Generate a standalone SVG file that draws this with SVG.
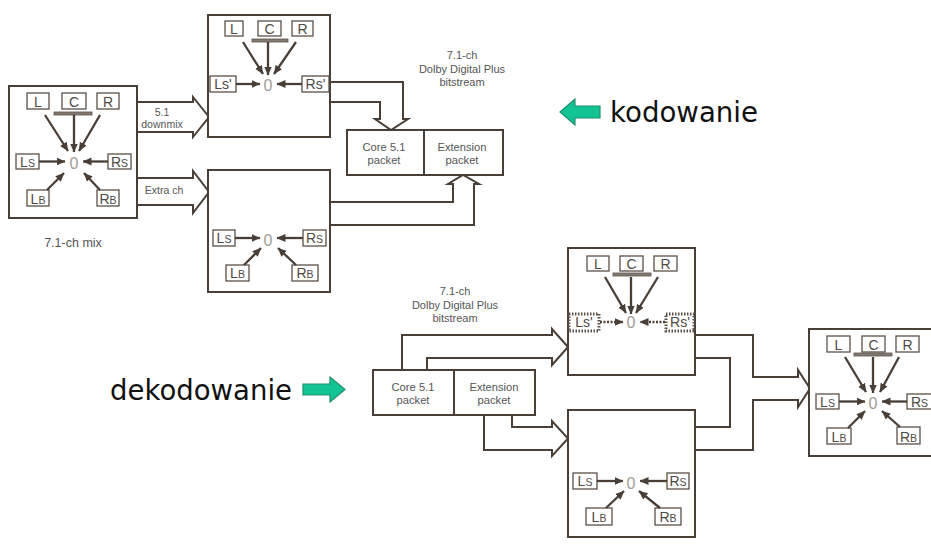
<svg xmlns="http://www.w3.org/2000/svg" width="931" height="559" viewBox="0 0 931 559">
<defs>
<marker id="ah" markerUnits="userSpaceOnUse" markerWidth="9" markerHeight="9" viewBox="0 0 9 9" refX="8.5" refY="4.5" orient="auto">
<path d="M0,0.6 L9,4.5 L0,8.4 z" fill="#4a3f36"/>
</marker>
<style>
.box{fill:#fff;stroke:#4a3f36;stroke-width:2}
.ch{fill:#fff;stroke:#5b5048;stroke-width:1.3}
.dch{fill:#fff;stroke:#5b5048;stroke-width:3;stroke-dasharray:1.5 1.5}
.bar{fill:#857b72;stroke:#5b5048;stroke-width:0.8}
.a{stroke:#4a3f36;stroke-width:2.3;marker-end:url(#ah)}
.ad{stroke:#4a3f36;stroke-width:2.3;stroke-dasharray:2 1.5;marker-end:url(#ah)}
.t{font-family:"Liberation Sans",Arial,sans-serif;font-size:14px;fill:#4f4a45;text-anchor:middle}
.z{font-family:"Liberation Sans",Arial,sans-serif;font-size:16px;fill:#a29c96;text-anchor:middle}
.s{font-size:10.5px}
.lbl{font-family:"Liberation Sans",Arial,sans-serif;font-size:10.5px;fill:#555;text-anchor:middle}
.bs{font-size:11px}
.pk{font-family:"Liberation Sans",Arial,sans-serif;font-size:11.2px;fill:#555;text-anchor:middle}
.c{fill:none;stroke:#4a3f36;stroke-width:2;stroke-linejoin:miter}
.ga{fill:#14c393;stroke:#1d8f6d;stroke-width:1.2}
.big{font-family:"DejaVu Sans",Verdana,sans-serif;font-size:28px;fill:#111}
</style>
</defs>
<rect width="931" height="559" fill="#fff"/>

<g id="connectors">
<polyline class="c" points="137,102 193,102 193,97 209,117 193,137 193,132 137,132"/>
<polyline class="c" points="137,178 193,178 193,171 209,192 193,213 193,205 137,205"/>
<polyline class="c" points="330,82 403,82 403,119 408,119 391,130 375,119 380,119 380,102 330,102"/>
<polyline class="c" points="330,202 453,202 453,184 448,184 463,175 479,184 474,184 474,225 330,225"/>
<polyline class="c" points="402,370 402,335 552,335 552,329 568,347 552,365 552,358 427,358 427,370"/>
<polyline class="c" points="512,415 512,427 552,427 552,421 568,438.5 552,456 552,450 484,450 484,415"/>
<polyline class="c" points="695,335 753,335 753,377 798,377 798,370 810,388.5 798,407 798,400 753,400 753,450 695,450"/>
<polyline class="c" points="695,358 730,358 730,427 695,427"/>
</g>

<g id="mix71">
<rect class="box" x="9" y="86" width="128" height="132"/>
<rect class="ch" x="27" y="93" width="22" height="16"/><text class="t" x="38" y="106.5">L</text>
<rect class="ch" x="62" y="93" width="24" height="16"/><text class="t" x="74" y="106.5">C</text>
<rect class="ch" x="97" y="93" width="22" height="16"/><text class="t" x="108" y="106.5">R</text>
<rect class="bar" x="54" y="112" width="38" height="3"/>
<text class="z" x="74" y="168.5">0</text>
<rect class="ch" x="16" y="154" width="23" height="15"/><text class="t" x="27.5" y="167">L<tspan class="s">S</tspan></text>
<rect class="ch" x="108" y="154" width="23" height="15"/><text class="t" x="119.5" y="167">R<tspan class="s">S</tspan></text>
<rect class="ch" x="27" y="190" width="22" height="16"/><text class="t" x="38" y="203.5">L<tspan class="s">B</tspan></text>
<rect class="ch" x="97" y="190" width="22" height="16"/><text class="t" x="108" y="203.5">R<tspan class="s">B</tspan></text>
<line class="a" x1="45" y1="115" x2="68" y2="151"/>
<line class="a" x1="74" y1="115" x2="74" y2="152"/>
<line class="a" x1="100" y1="115" x2="79" y2="151"/>
<line class="a" x1="39" y1="161.5" x2="65" y2="161.5"/>
<line class="a" x1="108" y1="161.5" x2="83" y2="161.5"/>
<line class="a" x1="47" y1="190" x2="64" y2="173"/>
<line class="a" x1="100" y1="190" x2="84" y2="173"/>
</g>
<text class="lbl" x="73" y="247" style="font-size:12.5px">7.1-ch mix</text>
<text class="lbl" x="162" y="116">5.1</text>
<text class="lbl" x="162" y="128">downmix</text>
<text class="lbl" x="164" y="194">Extra ch</text>

<g id="enc-core">
<rect class="box" x="208" y="15" width="122" height="122"/>
<rect class="ch" x="225" y="21" width="18" height="15"/><text class="t" x="234" y="34">L</text>
<rect class="ch" x="258" y="21" width="23" height="15"/><text class="t" x="269.5" y="34">C</text>
<rect class="ch" x="292" y="21" width="21" height="15"/><text class="t" x="302.5" y="34">R</text>
<rect class="bar" x="252" y="39" width="36" height="3"/>
<text class="z" x="268" y="90.5">0</text>
<rect class="ch" x="210" y="76" width="26" height="16"/><text class="t" x="223" y="89">Ls'</text>
<rect class="ch" x="302" y="76" width="27" height="16"/><text class="t" x="315.5" y="89">Rs'</text>
<line class="a" x1="243" y1="42" x2="263" y2="74"/>
<line class="a" x1="268" y1="42" x2="268" y2="75"/>
<line class="a" x1="296" y1="42" x2="274" y2="74"/>
<line class="a" x1="236" y1="84" x2="260" y2="84"/>
<line class="a" x1="302" y1="84" x2="277" y2="84"/>
</g>

<g id="enc-ext">
<rect class="box" x="208" y="170" width="122" height="122"/>
<text class="z" x="268" y="245.5">0</text>
<rect class="ch" x="213" y="230" width="22" height="16"/><text class="t" x="224" y="243">L<tspan class="s">S</tspan></text>
<rect class="ch" x="303" y="230" width="23" height="16"/><text class="t" x="314.5" y="243">R<tspan class="s">S</tspan></text>
<rect class="ch" x="226" y="265" width="23" height="16"/><text class="t" x="237.5" y="278">L<tspan class="s">B</tspan></text>
<rect class="ch" x="292" y="265" width="26" height="16"/><text class="t" x="305" y="278">R<tspan class="s">B</tspan></text>
<line class="a" x1="235" y1="238" x2="260" y2="238"/>
<line class="a" x1="303" y1="238" x2="277" y2="238"/>
<line class="a" x1="244" y1="265" x2="261" y2="248"/>
<line class="a" x1="296" y1="265" x2="278" y2="248"/>
</g>

<g id="enc-bitstream">
<rect class="box" x="347" y="130" width="156" height="45"/>
<line x1="424" y1="130" x2="424" y2="175" stroke="#4a3f36" stroke-width="2"/>
<text class="pk" x="384" y="151">Core 5.1</text>
<text class="pk" x="384" y="164">packet</text>
<text class="pk" x="462" y="151">Extension</text>
<text class="pk" x="462" y="164">packet</text>
</g>
<text class="lbl bs" x="462" y="59">7.1-ch</text>
<text class="lbl bs" x="462" y="73">Dolby Digital Plus</text>
<text class="lbl bs" x="462" y="86">bitstream</text>

<g id="kodowanie">
<polygon class="ga" points="560,112 575,99 575,106 600,106 600,118 575,118 575,125"/>
<text class="big" x="610" y="122" textLength="148" lengthAdjust="spacingAndGlyphs">kodowanie</text>
</g>

<g id="dekodowanie">
<text class="big" x="110" y="400" textLength="182" lengthAdjust="spacingAndGlyphs">dekodowanie</text>
<polygon class="ga" points="345,389.5 330,377 330,384 303,384 303,395 330,395 330,402"/>
</g>

<g id="dec-bitstream">
<rect class="box" x="373" y="370" width="162" height="45"/>
<line x1="454" y1="370" x2="454" y2="415" stroke="#4a3f36" stroke-width="2"/>
<text class="pk" x="413" y="391">Core 5.1</text>
<text class="pk" x="413" y="404">packet</text>
<text class="pk" x="494" y="391">Extension</text>
<text class="pk" x="494" y="404">packet</text>
</g>
<text class="lbl bs" x="455" y="295">7.1-ch</text>
<text class="lbl bs" x="455" y="309">Dolby Digital Plus</text>
<text class="lbl bs" x="455" y="322">bitstream</text>

<g id="dec-core">
<rect class="box" x="568" y="248" width="127" height="127"/>
<rect class="ch" x="587" y="256" width="22" height="15"/><text class="t" x="598" y="269">L</text>
<rect class="ch" x="620" y="256" width="23" height="15"/><text class="t" x="631.5" y="269">C</text>
<rect class="ch" x="654" y="256" width="23" height="15"/><text class="t" x="665.5" y="269">R</text>
<rect class="bar" x="613" y="273" width="38" height="3"/>
<text class="z" x="631" y="327.5">0</text>
<rect class="dch" x="569" y="314" width="30" height="17"/><text class="t" x="584" y="327">Ls'</text>
<rect class="dch" x="666" y="314" width="28" height="17"/><text class="t" x="680" y="327">Rs'</text>
<line class="a" x1="605" y1="277" x2="626" y2="313"/>
<line class="a" x1="631" y1="277" x2="631" y2="314"/>
<line class="a" x1="658" y1="277" x2="636" y2="313"/>
<line class="ad" x1="600" y1="322" x2="623" y2="322"/>
<line class="ad" x1="665" y1="322" x2="640" y2="322"/>
</g>

<g id="dec-ext">
<rect class="box" x="568" y="410" width="127" height="127"/>
<text class="z" x="631" y="488.5">0</text>
<rect class="ch" x="573" y="473" width="24" height="16"/><text class="t" x="585" y="486">L<tspan class="s">S</tspan></text>
<rect class="ch" x="667" y="473" width="22" height="16"/><text class="t" x="678" y="486">R<tspan class="s">S</tspan></text>
<rect class="ch" x="586" y="508" width="26" height="17"/><text class="t" x="599" y="521.5">L<tspan class="s">B</tspan></text>
<rect class="ch" x="655" y="508" width="26" height="17"/><text class="t" x="668" y="521.5">R<tspan class="s">B</tspan></text>
<line class="a" x1="597" y1="481" x2="623" y2="481"/>
<line class="a" x1="667" y1="481" x2="640" y2="481"/>
<line class="a" x1="606" y1="508" x2="624" y2="491"/>
<line class="a" x1="660" y1="508" x2="639" y2="491"/>
</g>

<g id="output71">
<rect class="box" x="809" y="329" width="130" height="127"/>
<rect class="ch" x="827" y="336" width="23" height="16"/><text class="t" x="838.5" y="349.5">L</text>
<rect class="ch" x="862" y="336" width="23" height="16"/><text class="t" x="873.5" y="349.5">C</text>
<rect class="ch" x="896" y="336" width="23" height="16"/><text class="t" x="907.5" y="349.5">R</text>
<rect class="bar" x="854" y="353" width="38" height="3"/>
<text class="z" x="873" y="408.5">0</text>
<rect class="ch" x="816" y="394" width="23" height="15"/><text class="t" x="827.5" y="407">L<tspan class="s">S</tspan></text>
<rect class="ch" x="907" y="394" width="25" height="15"/><text class="t" x="919.5" y="407">R<tspan class="s">S</tspan></text>
<rect class="ch" x="827" y="428" width="24" height="16"/><text class="t" x="839" y="441.5">L<tspan class="s">B</tspan></text>
<rect class="ch" x="897" y="427" width="23" height="17"/><text class="t" x="908.5" y="441.5">R<tspan class="s">B</tspan></text>
<line class="a" x1="845" y1="357" x2="866" y2="392"/>
<line class="a" x1="873" y1="357" x2="873" y2="393"/>
<line class="a" x1="899" y1="357" x2="880" y2="392"/>
<line class="a" x1="839" y1="401.5" x2="865" y2="401.5"/>
<line class="a" x1="907" y1="401.5" x2="882" y2="401.5"/>
<line class="a" x1="848" y1="428" x2="865" y2="411"/>
<line class="a" x1="900" y1="427" x2="882" y2="411"/>
</g>
</svg>
